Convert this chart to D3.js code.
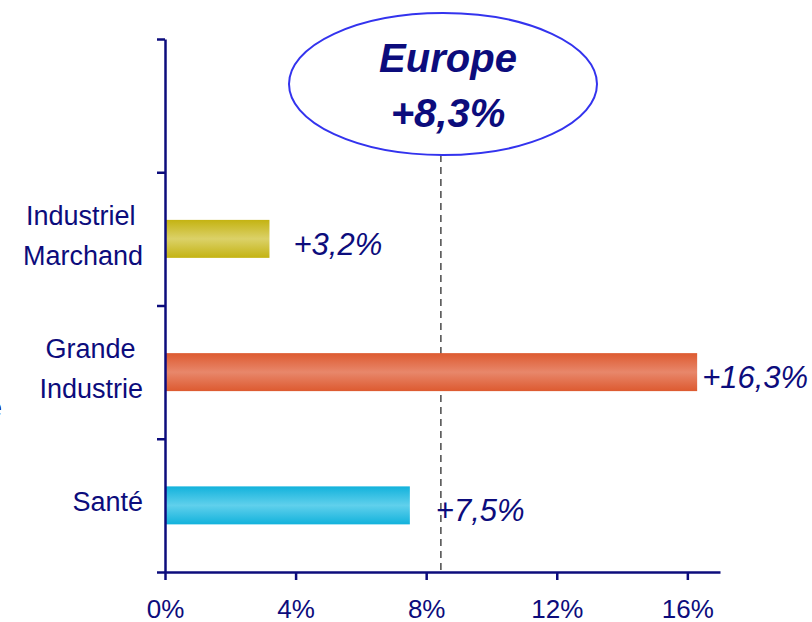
<!DOCTYPE html>
<html>
<head>
<meta charset="utf-8">
<script src="https://cdn.jsdelivr.net/npm/d3@7"></script>
<style>
  body { margin: 0; background: #fff; }
  svg text { font-family: "Liberation Sans", Arial, sans-serif; white-space: pre; }
</style>
</head>
<body>
<svg id="chart" width="812" height="622"></svg>
<script>
// data
var categories = ["", "Industriel Marchand", "Grande Industrie", "Santé"];
var labelLines = [[], ["Industriel ", "Marchand"], ["Grande ", "Industrie"], ["Santé"]];
var values = [null, 3.2, 16.3, 7.5];
var valueLabels = ["", "+3,2%", "+16,3%", "+7,5%"];
var tickValues = [0, 4, 8, 12, 16];
var tickLabels = ["0%", "4%", "8%", "12%", "16%"];
var europeValue = 8.45;   // where the dashed line sits in the picture
var europeLabel = ["Europe", "+8,3%"];

var barColors = [null, ["#c4b312", "#dbd168"], ["#dd5a30", "#e8876b"], ["#12b2dc", "#60d0ec"]];
var navy = "#0c0c7c";

var svg = d3.select("#chart");

var x = d3.scaleLinear().domain([0, 17]).range([165, 720]);
var y = d3.scaleBand().domain(categories).range([39, 572])
    .paddingInner(0.715).paddingOuter(0.3575);
var yTicks = d3.scaleLinear().domain([0, categories.length]).range([39, 572]);

// gradients
var defs = svg.append("defs");
barColors.forEach(function (c, i) {
    if (!c) return;
    var g = defs.append("linearGradient").attr("id", "grad" + i)
        .attr("x1", 0).attr("y1", 0).attr("x2", 0).attr("y2", 1);
    g.append("stop").attr("offset", "0%").attr("stop-color", c[0]);
    g.append("stop").attr("offset", "50%").attr("stop-color", c[1]);
    g.append("stop").attr("offset", "100%").attr("stop-color", c[0]);
});

// dashed Europe line
svg.append("line")
    .attr("x1", x(europeValue)).attr("x2", x(europeValue))
    .attr("y1", 155).attr("y2", 572)
    .style("stroke", "#555")
    .style("stroke-width", 1.6)
    .style("stroke-dasharray", "7,5");

// bars
categories.forEach(function (c, i) {
    if (values[i] == null) return;
    svg.append("rect")
        .attr("x", x(0))
        .attr("y", y(c))
        .attr("width", x(values[i]) - x(0))
        .attr("height", y.bandwidth())
        .style("fill", "url(#grad" + i + ")");
});

// value labels
var valueOffsets = [null, [24, 16], [5, 16], [26, 16]];
categories.forEach(function (c, i) {
    if (values[i] == null) return;
    svg.append("text")
        .attr("x", x(values[i]) + valueOffsets[i][0])
        .attr("y", y(c) + y.bandwidth() / 2 + valueOffsets[i][1])
        .style("font-size", "31px")
        .style("font-style", "italic")
        .style("fill", navy)
        .text(valueLabels[i]);
});

// category labels
categories.forEach(function (c, i) {
    var lines = labelLines[i];
    if (!lines.length) return;
    var mid = y(c) + y.bandwidth() / 2;
    var first = mid + 6 - (lines.length - 1) * 20;
    lines.forEach(function (l, j) {
        svg.append("text")
            .attr("x", 143)
            .attr("y", first + j * 40)
            .attr("text-anchor", "end")
            .style("font-size", "27px")
            .style("fill", navy)
            .text(l);
    });
});

// cropped fragment at the left edge
svg.append("text").attr("x", 2).attr("y", 417).attr("text-anchor", "end")
    .style("font-size", "27px").style("fill", navy).text("e");

// y axis
var yAxis = svg.append("g").attr("transform", "translate(165,0)")
    .call(d3.axisLeft(yTicks).tickValues(d3.range(categories.length + 1))
        .tickFormat("").tickSize(8).tickSizeOuter(0));

// x axis
var xAxis = svg.append("g").attr("transform", "translate(0,572)")
    .call(d3.axisBottom(x).tickValues(tickValues)
        .tickFormat(function (d, i) { return tickLabels[i]; })
        .tickSize(8).tickSizeOuter(0).tickPadding(20));

[yAxis, xAxis].forEach(function (a) {
    a.select(".domain").style("stroke", navy).style("stroke-width", 2.5);
    a.selectAll(".tick line").style("stroke", navy).style("stroke-width", 2.5);
    a.selectAll(".tick text").style("fill", navy).style("font-size", "26px")
        .style("font-family", "Liberation Sans, Arial, sans-serif");
});

// Europe bubble
svg.append("ellipse")
    .attr("cx", 443).attr("cy", 84).attr("rx", 154).attr("ry", 71)
    .style("fill", "#fff")
    .style("stroke", "#3333ee")
    .style("stroke-width", 2);

europeLabel.forEach(function (t, i) {
    svg.append("text")
        .attr("x", 448)
        .attr("y", 72 + i * 55)
        .attr("text-anchor", "middle")
        .style("font-size", "40px")
        .style("font-weight", "bold")
        .style("font-style", "italic")
        .style("fill", navy)
        .text(t);
});
</script>
</body>
</html>
